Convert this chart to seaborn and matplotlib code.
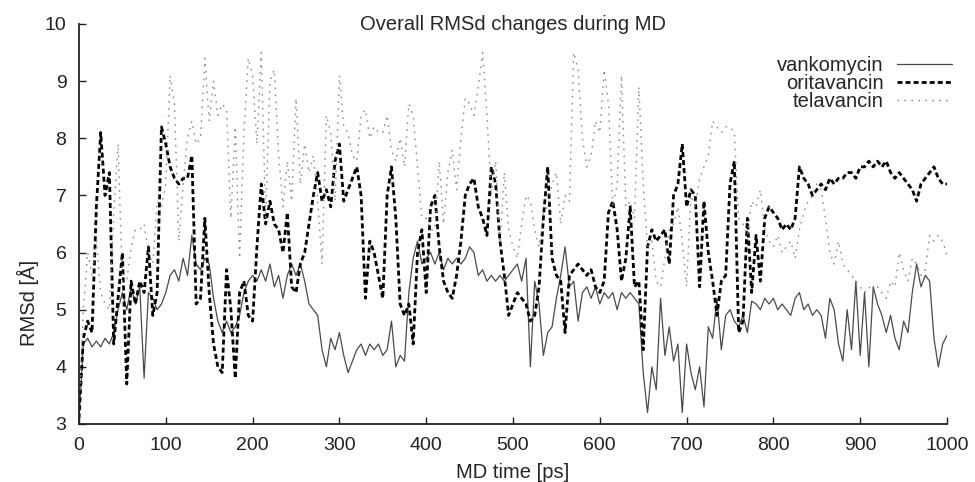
import numpy as np
import pandas as pd
import seaborn as sns
import matplotlib.pyplot as plt

# RMSd traces, one value every 5 ps
time_ps = np.arange(0, 1001, 5)

vankomycin = [
    3.1, 4.4, 4.5, 4.35, 4.45, 4.35, 4.5, 4.4, 4.6, 5.0, 5.3, 5.0, 5.4, 5.1, 5.4, 3.8, 5.3, 5.2, 5.0, 5.1,
    5.3, 5.6, 5.7, 5.5, 5.9, 5.6, 6.3, 5.8, 5.7, 5.9, 5.8, 5.2, 4.8, 4.6, 4.8, 4.6, 4.7, 4.9, 5.3, 5.5,
    5.6, 5.5, 5.7, 5.5, 5.8, 5.4, 5.6, 5.2, 5.6, 5.8, 5.6, 5.8, 5.5, 5.1, 5.0, 4.9, 4.3, 4.0, 4.5, 4.3,
    4.6, 4.2, 3.9, 4.1, 4.3, 4.4, 4.2, 4.4, 4.3, 4.4, 4.2, 4.3, 4.8, 4.0, 4.2, 4.1, 5.3, 5.9, 6.2, 5.8,
    5.9, 6.0, 5.8, 6.0, 5.7, 5.9, 5.8, 5.9, 5.8, 5.9, 6.1, 6.0, 5.6, 5.7, 5.5, 5.6, 5.5, 5.6, 5.5, 5.6,
    5.7, 5.8, 5.5, 5.9, 4.0, 5.5, 5.1, 4.2, 4.6, 4.7, 5.2, 5.6, 6.1, 5.4, 5.5, 4.8, 5.3, 5.4, 5.2, 5.4,
    5.1, 5.3, 5.2, 5.3, 5.0, 5.3, 5.2, 5.3, 5.2, 5.1, 3.9, 3.2, 4.0, 3.6, 5.2, 4.2, 4.7, 4.1, 4.4, 3.2,
    4.4, 3.9, 3.6, 4.0, 3.3, 4.7, 4.5, 5.2, 4.3, 4.9, 5.0, 4.8, 4.7, 4.9, 4.6, 5.15, 5.1, 5.0, 5.2, 5.1,
    5.2, 5.0, 5.1, 5.0, 4.9, 5.2, 5.3, 5.0, 5.1, 4.9, 5.0, 4.9, 4.5, 5.2, 5.0, 4.4, 4.1, 5.0, 4.3, 5.5,
    4.2, 5.3, 4.0, 5.4, 5.1, 4.9, 4.6, 4.9, 4.5, 4.3, 4.8, 4.6, 5.3, 5.8, 5.4, 5.6, 5.5, 4.5, 4.0, 4.4, 4.55,
]

oritavancin = [
    3.1, 4.5, 4.8, 4.6, 6.8, 8.1, 7.0, 7.4, 4.4, 5.2, 6.0, 3.7, 5.5, 5.1, 5.5, 5.3, 6.1, 4.9, 5.3, 8.2,
    7.9, 7.5, 7.3, 7.2, 7.3, 7.3, 7.7, 5.1, 5.2, 6.6, 5.3, 4.4, 4.0, 3.9, 5.7, 5.0, 3.8, 5.3, 5.5, 4.9,
    4.8, 6.1, 7.2, 6.5, 6.9, 6.5, 6.4, 6.0, 6.7, 5.4, 5.3, 5.8, 6.0, 6.5, 7.0, 7.4, 6.9, 7.1, 6.8, 7.6,
    7.9, 6.9, 7.1, 7.3, 7.5, 7.0, 5.2, 6.2, 6.0, 5.6, 5.2, 7.0, 7.5, 6.6, 5.1, 4.9, 5.1, 4.4, 6.0, 6.4,
    5.3, 6.8, 7.0, 6.1, 5.5, 5.3, 5.2, 5.6, 6.2, 7.0, 7.2, 7.3, 6.8, 6.6, 6.3, 7.5, 7.2, 6.2, 5.6, 4.9,
    5.1, 5.3, 5.2, 5.1, 4.8, 4.9, 5.4, 6.6, 7.5, 5.9, 5.6, 5.5, 4.6, 5.6, 5.7, 5.8, 5.7, 5.6, 5.7, 5.4,
    5.3, 5.5, 6.7, 6.9, 6.4, 5.5, 5.9, 6.8, 5.4, 5.5, 4.3, 6.1, 6.4, 6.2, 6.3, 6.4, 5.8, 7.0, 7.2, 7.9,
    6.8, 7.1, 7.0, 5.4, 6.9, 6.0, 5.5, 4.9, 5.5, 5.6, 7.2, 7.6, 4.6, 4.8, 6.6, 5.3, 6.3, 5.5, 6.6, 6.8,
    6.7, 6.6, 6.4, 6.5, 6.4, 6.6, 7.5, 7.3, 7.2, 7.0, 7.1, 7.2, 7.1, 7.3, 7.2, 7.3, 7.3, 7.4, 7.4, 7.3,
    7.5, 7.5, 7.6, 7.5, 7.6, 7.5, 7.6, 7.4, 7.3, 7.4, 7.3, 7.2, 7.1, 6.9, 7.2, 7.3, 7.4, 7.5, 7.3, 7.2, 7.2,
]

telavancin = [
    3.1, 5.0, 6.0, 5.6, 6.2, 5.3, 5.1, 5.0, 6.7, 7.9, 5.5, 5.5, 6.1, 6.4, 6.4, 6.5, 6.0, 5.8, 6.9, 6.8,
    7.2, 9.1, 8.6, 6.2, 7.2, 8.0, 8.3, 7.9, 8.0, 9.4, 8.3, 9.0, 8.4, 8.6, 8.5, 6.6, 8.2, 5.9, 8.1, 9.4,
    9.1, 7.9, 9.5, 6.6, 9.0, 9.2, 7.7, 6.8, 7.6, 6.9, 8.7, 7.2, 7.9, 7.4, 7.7, 6.9, 5.8, 8.4, 8.1, 6.9,
    9.1, 8.2, 8.1, 7.7, 7.6, 8.4, 8.5, 8.0, 8.2, 8.1, 8.1, 8.4, 7.8, 7.6, 8.0, 7.5, 8.6, 8.4, 7.5, 6.6,
    6.6, 6.4, 6.4, 7.6, 6.5, 7.4, 7.8, 7.1, 8.0, 8.7, 8.6, 8.4, 8.9, 9.5, 8.4, 7.0, 7.6, 6.1, 7.4, 6.4,
    6.1, 5.9, 6.5, 7.0, 6.9, 6.4, 6.1, 6.7, 6.8, 7.2, 7.4, 6.5, 7.0, 6.9, 9.5, 9.2, 8.0, 7.5, 7.7, 8.3,
    8.1, 9.2, 8.6, 6.8, 7.2, 9.1, 6.8, 6.9, 6.6, 8.9, 7.2, 6.1, 6.2, 5.5, 5.4, 5.9, 6.4, 6.5, 6.8, 6.2,
    5.4, 7.0, 6.8, 7.3, 7.5, 7.7, 8.3, 8.2, 8.1, 8.2, 8.2, 8.1, 6.6, 6.5, 6.3, 6.9, 6.8, 7.1, 6.4, 6.2,
    6.1, 6.3, 6.0, 6.1, 6.2, 5.9, 6.4, 6.7, 6.9, 7.0, 7.2, 7.1, 6.6, 6.0, 5.8, 6.2, 5.8, 5.7, 5.6, 5.5,
    5.4, 5.3, 5.4, 5.3, 5.4, 5.3, 5.2, 5.5, 5.4, 6.0, 5.7, 5.5, 5.9, 5.8, 5.6, 5.7, 6.3, 6.2, 6.3, 6.2, 5.95,
]

drugs = ['vankomycin', 'oritavancin', 'telavancin']
df = pd.DataFrame({
    'time': np.tile(time_ps, 3),
    'rmsd': vankomycin + oritavancin + telavancin,
    'drug': np.repeat(drugs, len(time_ps)),
})

# gnuplot-like look
sns.set_style('ticks')
plt.rcParams['font.family'] = ['Liberation Sans', 'DejaVu Sans']
plt.rcParams['xtick.direction'] = 'in'
plt.rcParams['ytick.direction'] = 'in'

line_styles = {
    'vankomycin': dict(color='#4a4a4a', linewidth=0.9, linestyle='-'),
    'oritavancin': dict(color='black', linewidth=2.0, linestyle=(0, (1.8, 1.1))),
    'telavancin': dict(color='#8c8c8c', linewidth=1.0, linestyle=(0, (1.2, 3.8))),
}

W, H = 975, 482
fig = plt.figure(figsize=(W / 100, H / 100), dpi=100)
ax = fig.add_axes([79 / W, 1 - 424 / H, (947 - 79) / W, 400 / H])

for drug in drugs:
    sns.lineplot(data=df[df['drug'] == drug], x='time', y='rmsd', ax=ax,
                 label=drug, errorbar=None, **line_styles[drug])

ax.set_xlim(0, 1000)
ax.set_ylim(3, 10)
ax.set_xticks(range(0, 1001, 100))
ax.set_yticks(range(3, 11))
sns.despine(ax=ax)
for side in ['left', 'bottom']:
    ax.spines[side].set_linewidth(1.3)
    ax.spines[side].set_color('#222222')
ax.tick_params(length=5, width=1, labelsize=14, pad=9, colors='#222222')

ax.set_xlabel('MD time [ps]', fontsize=14.5)
ax.set_ylabel('RMSd [Å]', fontsize=14.5)
ax.xaxis.label.set_va('center')
ax.yaxis.label.set_va('center')
ax.xaxis.set_label_coords(0.5, -0.1225)
ax.yaxis.set_label_coords(-0.059, 0.3025)

ax.text(0.5, 0.985, 'Overall RMSd changes during MD', transform=ax.transAxes,
        ha='center', va='baseline', fontsize=14.5)

# labels left of the samples; with markerfirst=False the texts are right-justified
handles, labels = ax.get_legend_handles_labels()
ax.legend(handles, labels, loc='upper right',
          bbox_to_anchor=(952 / W, 1 - 56 / H), bbox_transform=fig.transFigure,
          frameon=False, markerfirst=False, handlelength=2.75, handletextpad=0.65,
          labelspacing=-0.05, borderpad=0, borderaxespad=0, fontsize=14.5)

fig.savefig('out.png', dpi=100)
